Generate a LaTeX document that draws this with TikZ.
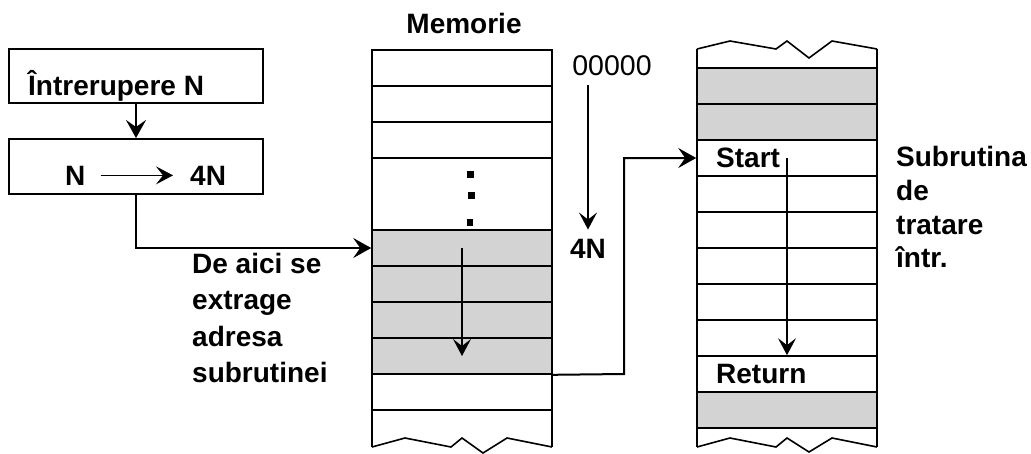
\documentclass[tikz,border=0pt]{standalone}
\usepackage{fontspec}
\setmainfont{Liberation Sans}
\usetikzlibrary{arrows.meta}
\definecolor{cellgray}{RGB}{211,211,211}
\begin{document}
\begin{tikzpicture}[x=1pt,y=-1pt,
  lbl/.style={font=\fontsize{28}{36}\selectfont\bfseries, inner sep=0pt, anchor=base west},
  reg/.style={font=\fontsize{28.5}{36}\selectfont, inner sep=0pt},
  box/.style={draw, line width=2pt, minimum width=254pt, inner sep=0pt},
  cell/.style={draw, line width=1.6pt, minimum width=180pt, minimum height=36pt, inner sep=0pt},
  graycell/.style={cell, fill=cellgray},
  conn/.style={line width=2pt, -{Stealth[length=18pt,width=20pt,inset=7pt]}},
  flow/.style={line width=1.3pt, -{Stealth[length=17pt,width=18pt,inset=7pt]}},
  edgeline/.style={line width=2.4pt},
  zig/.style={line width=1.6pt, line join=miter},
]
\useasboundingbox (0,0) rectangle (1031,453);

% left boxes
\node[box, minimum height=54pt] (b1) at (136,76) {};
\node[box, minimum height=55pt] (b2) at (136,166.5) {};
\node[lbl] (t1) at (28,95) {Întrerupere N};
\node[lbl] (nN) at (65,185) {N};
\node[lbl] (n4N) at (190,185) {4N};
\draw[flow, shorten <=15pt, shorten >=17pt] (nN.east) -- (n4N.west);
\draw[conn] (b1.south) -- (b2.north);

% memory column
\node[cell] (m1) at (462,68) {};
\node[cell] (m2) at (462,104) {};
\node[cell] (m3) at (462,140) {};
\node[cell, minimum height=72pt] (mg) at (462,194) {};
\node[graycell] (m4) at (462,248) {};
\node[graycell] (m5) at (462,284) {};
\node[graycell] (m6) at (462,320) {};
\node[graycell] (m7) at (462,356) {};
\node[cell] (m8) at (462,392) {};
\draw[edgeline] (372,447) -- (372,50) -- (552,50) -- (552,447);
\draw[zig] (372,447) -- (405,438) -- (451,447) -- (462,438) -- (483,453) -- (507,438) -- (552,447);
\fill (467,171) rectangle (474,178);
\fill (468,192) rectangle (475,199);
\fill (467,219) rectangle (473,226);
\node[lbl, anchor=base] (mem) at (464,33) {Memorie};
\draw[flow] (m4.center) -- (m7.center);

% address labels
\node[reg, anchor=base] (z) at (612,75) {00000};
\node[lbl, anchor=base] (a4N) at (588,258) {4N};
\draw[flow, shorten <=10pt, shorten >=9pt] (z.south -| a4N.north) -- (a4N.north);

% right column
\node[graycell] (r1) at (787,86) {};
\node[graycell] (r2) at (787,122) {};
\node[cell] (r3) at (787,158) {};
\node[cell] (r4) at (787,194) {};
\node[cell] (r5) at (787,230) {};
\node[cell] (r6) at (787,266) {};
\node[cell] (r7) at (787,302) {};
\node[cell] (r8) at (787,338) {};
\node[cell] (r9) at (787,374) {};
\node[graycell] (r10) at (787,410) {};
\draw[edgeline] (697,49) -- (697,447);
\draw[edgeline] (877,49) -- (877,447);
\draw[zig] (697,49) -- (730,41) -- (776,49) -- (787,41) -- (809,58) -- (832,41) -- (877,49);
\draw[zig] (697,447) -- (730,438) -- (776,447) -- (787,438) -- (809,452) -- (832,438) -- (877,447);
\node[lbl] (start) at (716,167) {Start};
\node[lbl] (ret) at (716,383) {Return};
\draw[flow] (r3.center) -- (r9.north);

% connectors
\draw[conn] (b2.south) |- (m4.west);
\coordinate (k) at (624,374);
\draw[conn] (m7.south east) -- (k) |- (r3.west);

% side texts
\node[lbl] (d1) at (192,273) {De aici se};
\node[lbl] (d2) at (192,309.5) {extrage};
\node[lbl] (d3) at (192,346) {adresa};
\node[lbl] (d4) at (192,382.5) {subrutinei};
\node[lbl] (s1) at (896,166) {Subrutina};
\node[lbl] (s2) at (896,200) {de};
\node[lbl] (s3) at (896,234) {tratare};
\node[lbl] (s4) at (896,267) {într.};
\end{tikzpicture}
\end{document}
